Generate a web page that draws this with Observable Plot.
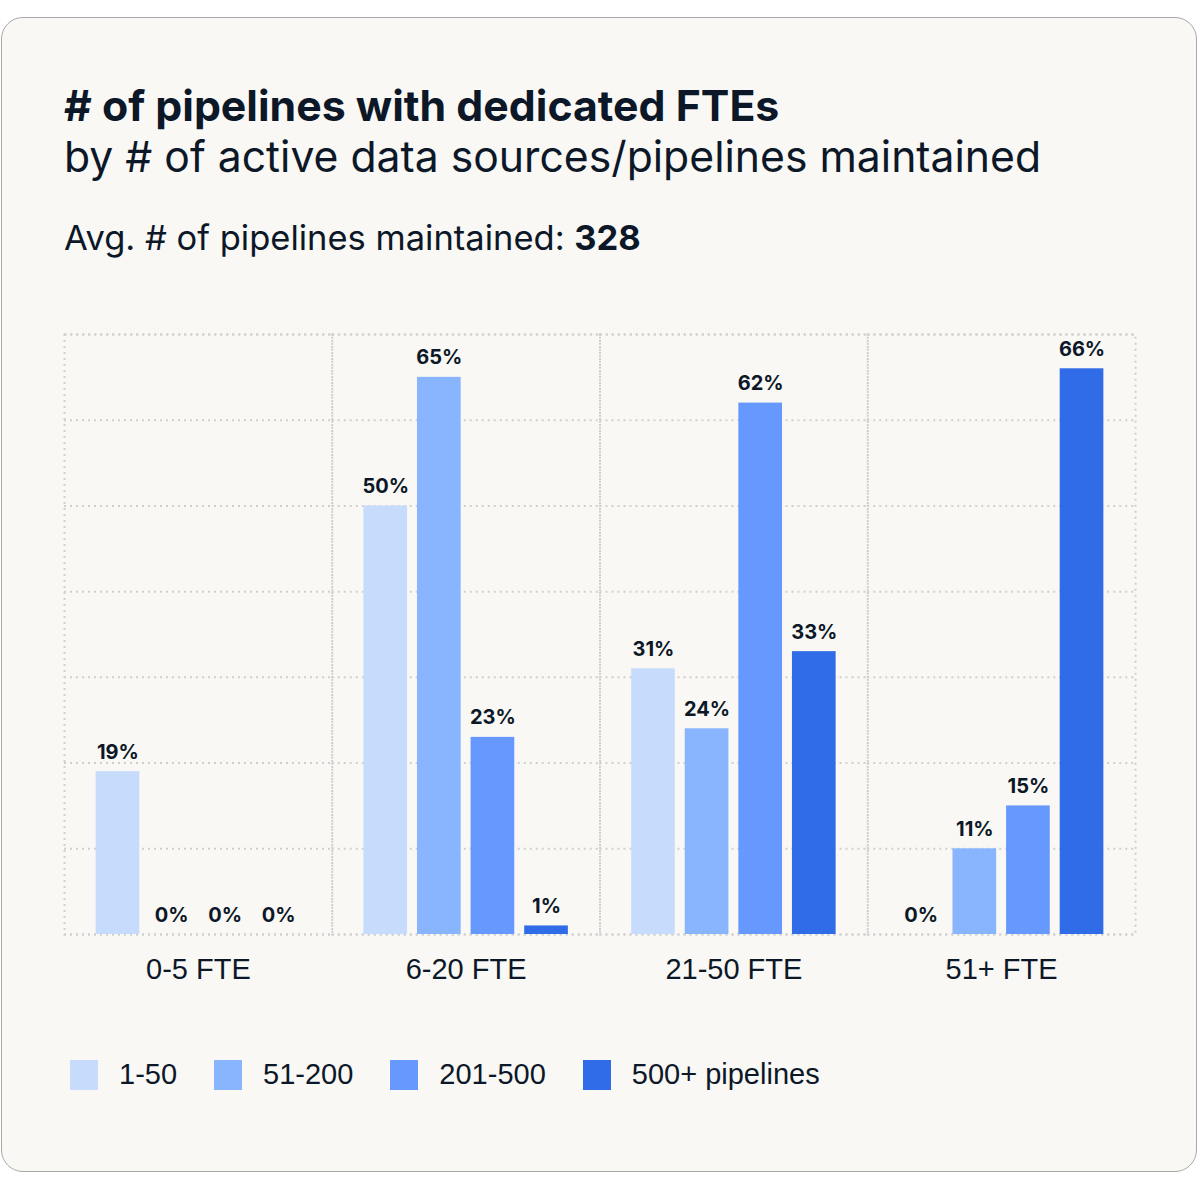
<!DOCTYPE html>
<html>
<head>
<meta charset="utf-8">
<script src="https://cdn.jsdelivr.net/npm/d3@7"></script>
<script src="https://cdn.jsdelivr.net/npm/@observablehq/plot@0.6"></script>
<style>
  html, body { margin: 0; padding: 0; background: #ffffff; }
  body { width: 1200px; height: 1177px; position: relative; overflow: hidden; font-family: Inter, "Noto Sans", sans-serif; color: #0c1727; }
  #card { position: absolute; left: 1px; top: 17px; width: 1194px; height: 1153px; border: 1.5px solid #a9a9a9; border-radius: 22px; background: #f9f8f5; }
  #title { position: absolute; left: 64px; top: 82px; font-size: 42.8px; font-weight: 700; line-height: 48px; white-space: nowrap; }
  #subtitle { position: absolute; left: 64px; top: 133px; font-size: 42.7px; font-weight: 400; line-height: 48px; white-space: nowrap; }
  #avg { position: absolute; left: 64px; top: 218px; font-size: 34.5px; font-weight: 400; line-height: 40px; white-space: nowrap; }
  #avg b { font-weight: 700; }
  #chart { position: absolute; left: 0; top: 300px; }
  #legend { position: absolute; left: 70px; top: 1058px; display: flex; align-items: center; font-family: "Liberation Sans", Arial, sans-serif; font-size: 29px; }
  .item { display: flex; align-items: center; margin-right: 37px; }
  .sw { width: 28px; height: 30px; margin-right: 21px; }
</style>
</head>
<body>
<div id="card"></div>
<div id="title"># of pipelines with dedicated FTEs</div>
<div id="subtitle">by # of active data sources/pipelines maintained</div>
<div id="avg">Avg. # of pipelines maintained: <b>328</b></div>
<div id="chart"></div>
<div id="legend"></div>
<script>
const groups = ["0-5 FTE", "6-20 FTE", "21-50 FTE", "51+ FTE"];
const series = ["1-50", "51-200", "201-500", "500+ pipelines"];
// bar heights as drawn (percent)
const values_1_50 = [19, 50, 31, 0];
const values_51_200 = [0, 65, 24, 10];
const values_201_500 = [0, 23, 62, 15];
const values_500plus = [0, 1, 33, 66];
// value labels as printed
const labels_1_50 = ["19%", "50%", "31%", "0%"];
const labels_51_200 = ["0%", "65%", "24%", "11%"];
const labels_201_500 = ["0%", "23%", "62%", "15%"];
const labels_500plus = ["0%", "1%", "33%", "66%"];
const colors = ["#c7dcfd", "#88b5fd", "#6798fd", "#306ce8"];
const yTicks = [0, 10, 20, 30, 40, 50, 60, 70];

const seriesValues = [values_1_50, values_51_200, values_201_500, values_500plus];
const seriesLabels = [labels_1_50, labels_51_200, labels_201_500, labels_500plus];
const data = [];
groups.forEach((g, gi) => {
  series.forEach((s, si) => {
    data.push({group: g, series: s, value: seriesValues[si][gi], label: seriesLabels[si][gi]});
  });
});

const chart = Plot.plot({
  width: 1200,
  height: 694,
  marginLeft: 64,
  marginRight: 65,
  marginTop: 34,
  marginBottom: 60,
  style: {background: "transparent", fontFamily: "Inter, sans-serif", color: "#0c1727"},
  fx: {domain: groups, padding: 0, label: null, round: false},
  x: {domain: series, paddingInner: 0.185, paddingOuter: 0.59, round: false, axis: null},
  y: {domain: [0, 70], axis: null},
  color: {domain: series, range: colors},
  marks: [
    Plot.gridY(yTicks, {stroke: "#cfcfcf", strokeOpacity: 1, strokeWidth: 2, strokeDasharray: "2,4"}),
    Plot.frame({stroke: "#cfcfcf", strokeWidth: 2, strokeDasharray: "2,4"}),
    Plot.barY(data, {fx: "group", x: "series", y: "value", fill: "series"}),
    Plot.text(data, {fx: "group", x: "series", y: "value", text: "label", lineAnchor: "bottom", dy: -13, fontSize: 20, fontWeight: 700, fill: "#0c1727"}),
    Plot.axisFx({anchor: "bottom", tickSize: 0, tickPadding: 24, fontSize: 29, fontFamily: "Liberation Sans, Arial, sans-serif", fill: "#0c1727", label: null})
  ]
});
document.getElementById("chart").appendChild(chart);

const legend = document.getElementById("legend");
series.forEach((s, i) => {
  const item = document.createElement("div");
  item.className = "item";
  const sw = document.createElement("div");
  sw.className = "sw";
  sw.style.background = colors[i];
  const label = document.createElement("span");
  label.textContent = s;
  item.appendChild(sw);
  item.appendChild(label);
  legend.appendChild(item);
});
</script>
</body>
</html>
